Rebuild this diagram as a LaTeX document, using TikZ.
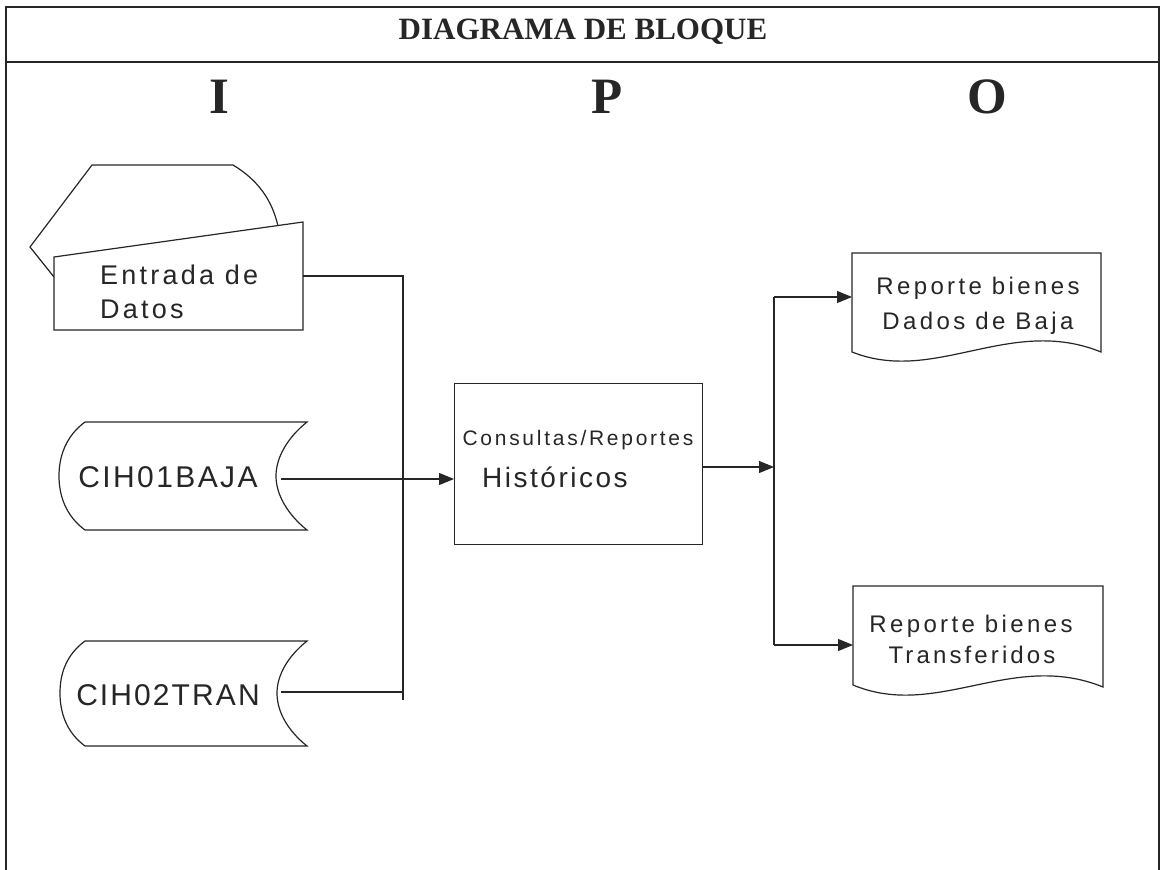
\documentclass[tikz,border=0pt]{standalone}
\usepackage{fontspec}
\setmainfont{Liberation Serif}
\newfontfamily\arialf{Liberation Sans}
\usetikzlibrary{arrows.meta}
\newcommand\txtf[2]{\arialf\fontsize{#1}{#1}\selectfont\addfontfeature{LetterSpace=#2}}
\tikzset{
  frameline/.style={line width=1.6pt, draw=black!85},
  shp/.style={line width=1.2pt, draw=black!85, fill=white},
  conn/.style={line width=1.1pt, draw=black!85},
  arr/.style={conn, -{Triangle[length=15pt,width=12pt]}},
  lbl/.style={inner sep=0pt, anchor=base, text=black!85},
}
\begin{document}
\begin{tikzpicture}[x=1pt,y=-1pt]
\useasboundingbox (0,0) rectangle (1162,870);
% frame
\draw[frameline] (6,870) -- (6,7) -- (1159,7) -- (1159,870);
\draw[frameline] (6,62) -- (1159,62);
\node[lbl] (title) at (583,39) {\fontsize{31}{31}\selectfont\bfseries DIAGRAMA DE BLOQUE};
\node[lbl] (I) at (219,113) {\fontsize{51}{51}\selectfont\bfseries I};
\node[lbl] (P) at (607,113) {\fontsize{51}{51}\selectfont\bfseries P};
\node[lbl] (O) at (987,113) {\fontsize{51}{51}\selectfont\bfseries O};

% Entrada de Datos (manual input card)
\draw[shp, fill=none] (54,277) -- (30,247) -- (92,165) -- (233,165)
   .. controls (258,180) and (272,200) .. (278,226);
\draw[shp] (54,257) -- (303,222) -- (303,330) -- (54,330) -- cycle;
\node[lbl, anchor=base west] (ent1) at (100,284) {\txtf{27}{12}Entrada de};
\node[lbl, anchor=base west] (ent2) at (100,318) {\txtf{27}{12}Datos};
\coordinate (entOut) at (303,276);
\coordinate (busTop) at (403,276);
\coordinate (busBot) at (403,700);

% CIH01BAJA
\draw[shp] (85,422) -- (307,422)
   .. controls (287,438) and (276,458) .. (276,476)
   .. controls (276,494) and (287,514) .. (307,530) -- (85,530)
   .. controls (66,516) and (59,496) .. (59,476)
   .. controls (59,456) and (66,436) .. (85,422) -- cycle;
\node[lbl] (baja) at (168,487) {\txtf{30}{8}CIH01BAJA};
\coordinate (bajaOut) at (281,479);

% CIH02TRAN
\draw[shp] (85,641) -- (307,641)
   .. controls (287,657) and (277,676) .. (277,693)
   .. controls (277,711) and (287,730) .. (307,746) -- (85,746)
   .. controls (66,732) and (60,712) .. (60,693)
   .. controls (60,674) and (66,655) .. (85,641) -- cycle;
\node[lbl] (tran) at (168,705) {\txtf{30}{7}CIH02TRAN};
\coordinate (tranOut) at (281,692);

% process box
\node[draw=black!85, line width=1.2pt, minimum width=248pt, minimum height=161pt,
      inner sep=0pt, anchor=north west] (proc) at (454,383) {};
\node[lbl] (proc1) at (578,445) {\txtf{21}{13}Consultas/Reportes};
\node[lbl, anchor=base west] (proc2) at (482,487) {\txtf{28}{9}Históricos};

% reports
\draw[shp] (852,253) -- (1101,253) -- (1101,352)
   .. controls (1010,315) and (935,385) .. (852,352) -- cycle;
\node[inner sep=0pt, minimum width=249pt, minimum height=99pt, anchor=north west] (rep1) at (852,253) {};
\node[lbl] (r1a) at (978,294) {\txtf{24}{14}Reporte bienes};
\node[lbl] (r1b) at (978,329) {\txtf{24}{14}Dados de Baja};

\draw[shp] (853,586) -- (1103,586) -- (1103,687)
   .. controls (1012,650) and (937,720) .. (853,685) -- cycle;
\node[inner sep=0pt, minimum width=250pt, minimum height=100pt, anchor=north west] (rep2) at (853,586) {};
\node[lbl] (r2a) at (971,632) {\txtf{24}{14}Reporte bienes};
\node[lbl] (r2b) at (972,663) {\txtf{24}{13}Transferidos};

% connectors
\draw[conn] (entOut) -- (busTop) -- (busBot);
\draw[conn] (tranOut) -- (tranOut -| busBot);
\draw[arr] (bajaOut) -- (proc.west |- bajaOut);
\coordinate (sp) at (774,467);
\coordinate (spTop) at (774,297);
\coordinate (spBot) at (774,645);
\draw[arr] (proc.east |- sp) -- (sp);
\draw[conn] (spTop) -- (spBot);
\draw[arr] (spTop) -- (rep1.west |- spTop);
\draw[arr] (spBot) -- (rep2.west |- spBot);
\end{tikzpicture}
\end{document}
